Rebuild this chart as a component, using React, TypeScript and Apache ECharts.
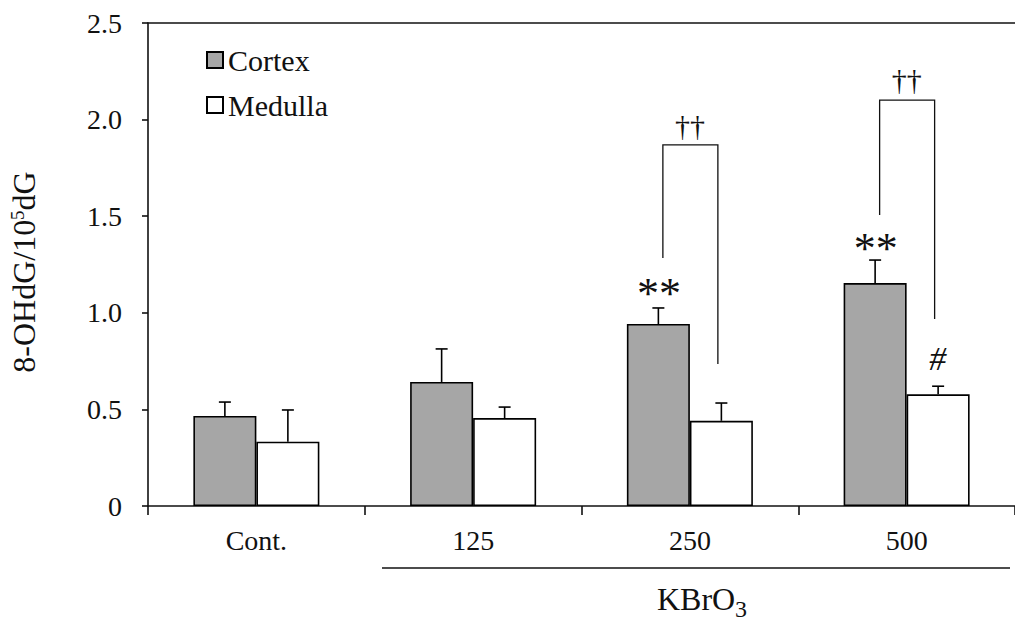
import React, { useEffect, useRef } from "react";
import * as echarts from "echarts";

const categories = ["Cont.", "125", "250", "500"];
const cortexMean = [0.466, 0.642, 0.942, 1.154];
const cortexSD = [0.072, 0.171, 0.083, 0.119];
const medullaMean = [0.333, 0.455, 0.441, 0.578];
const medullaSD = [0.164, 0.057, 0.092, 0.042];
const yTicks = [0, 0.5, 1.0, 1.5, 2.0, 2.5];

// brackets: [categoryIndex, leftBottom, top, rightBottom]
const brackets = [
  [2, 1.284, 1.869, 0.735],
  [3, 1.506, 2.101, 0.968],
];
// annotations: [categoryIndex, side(-1 cortex, 0 centre, 1 medulla), value, text]
const annotations: [number, number, number, string][] = [
  [2, -1, 1.1, "**"],
  [3, -1, 1.335, "**"],
  [3, 1, 0.766, "#"],
  [2, 0, 1.972, "††"],
  [3, 0, 2.205, "††"],
];

const FONT = '"Liberation Serif", "Times New Roman", serif';
const BAR_W = 63;

export default function App() {
  const ref = useRef<HTMLDivElement>(null);
  useEffect(() => {
    if (!ref.current) return;
    const chart = echarts.init(ref.current, undefined, { renderer: "svg" });
    const errorSeries = (name: string, means: number[], sds: number[], offset: number) => ({
      type: "custom",
      name: name + "-err",
      z: 5,
      encode: { x: 0, y: [1, 2] },
      data: means.map((m, i) => [i, m, m + sds[i]]),
      renderItem: (params: any, api: any) => {
        const c = api.value(0);
        const p0 = api.coord([c, api.value(1)]);
        const p1 = api.coord([c, api.value(2)]);
        const x = p0[0] + offset;
        const st = { stroke: "#000", lineWidth: 1.6 };
        return {
          type: "group",
          children: [
            { type: "line", shape: { x1: x, y1: p0[1], x2: x, y2: p1[1] }, style: st },
            { type: "line", shape: { x1: x - 6, y1: p1[1], x2: x + 6, y2: p1[1] }, style: st },
          ],
        };
      },
    });
    chart.setOption({
      animation: false,
      grid: { left: 148, top: 23, width: 872, height: 483 },
      legend: {
        data: ["Cortex", "Medulla"],
        orient: "vertical",
        left: 201,
        top: 40,
        itemWidth: 16,
        itemHeight: 16,
        itemGap: 15,
        icon: "rect",
        textStyle: { fontFamily: FONT, fontSize: 30, color: "#111" },
      },
      xAxis: [
        {
          type: "category",
          data: categories,
          axisLine: { lineStyle: { color: "#111", width: 1.6 } },
          axisTick: { show: true, length: 9, lineStyle: { color: "#111", width: 1.6 } },
          axisLabel: { fontFamily: FONT, fontSize: 28, color: "#111", margin: 20 },
        },
        {
          type: "category",
          data: categories,
          position: "top",
          axisLine: { show: true, lineStyle: { color: "#111", width: 1.6 } },
          axisTick: { show: false },
          axisLabel: { show: false },
        },
      ],
      yAxis: {
        type: "value",
        min: 0,
        max: 2.5,
        interval: 0.5,
        splitLine: { show: false },
        axisLine: { show: true, lineStyle: { color: "#111", width: 1.6 } },
        axisTick: { show: true, length: 6, lineStyle: { color: "#111", width: 1.6 } },
        axisLabel: {
          fontFamily: FONT,
          fontSize: 28,
          color: "#111",
          margin: 26,
          formatter: (v: number) => {
            const t = yTicks.find((k) => Math.abs(k - v) < 1e-9);
            return t === 0 ? "0" : (t ?? v).toFixed(1);
          },
        },
      },
      series: [
        {
          name: "Cortex",
          type: "bar",
          data: cortexMean,
          barWidth: BAR_W,
          barGap: "0%",
          itemStyle: { color: "#a6a6a6", borderColor: "#000", borderWidth: 1.6 },
        },
        {
          name: "Medulla",
          type: "bar",
          data: medullaMean,
          barWidth: BAR_W,
          barGap: "0%",
          itemStyle: { color: "#ffffff", borderColor: "#000", borderWidth: 1.6 },
        },
        errorSeries("Cortex", cortexMean, cortexSD, -BAR_W / 2),
        errorSeries("Medulla", medullaMean, medullaSD, BAR_W / 2),
        {
          type: "custom",
          name: "brackets",
          z: 5,
          encode: { x: 0, y: [1, 2, 3] },
          data: brackets,
          renderItem: (params: any, api: any) => {
            const c = api.value(0);
            const a = api.coord([c, api.value(1)]);
            const b = api.coord([c, api.value(2)]);
            const d = api.coord([c, api.value(3)]);
            const xl = a[0] - 27;
            const xr = a[0] + 28;
            return {
              type: "polyline",
              shape: { points: [[xl, a[1]], [xl, b[1]], [xr, b[1]], [xr, d[1]]] },
              style: { stroke: "#111", lineWidth: 1.3, fill: "none" },
            };
          },
        },
        {
          type: "custom",
          name: "annotations",
          z: 6,
          encode: { x: 0, y: 2 },
          data: annotations,
          renderItem: (params: any, api: any) => {
            const item = annotations[params.dataIndex];
            const p = api.coord([item[0], item[2]]);
            const txt = item[3];
            const isStar = txt === "**";
            const isDag = txt === "††";
            return {
              type: "text",
              x: p[0] + item[1] * 31,
              y: p[1],
              style: {
                text: txt,
                fontFamily: FONT,
                fontSize: isStar ? 44 : isDag ? 30 : 34,
                fontStyle: txt === "#" ? "italic" : "normal",
                fill: "#111",
                align: "center",
                verticalAlign: "middle",
              },
            };
          },
        },
      ],
      graphic: [
        {
          type: "text",
          x: 24,
          y: 272,
          rotation: Math.PI / 2,
          style: {
            text: "8-OHdG/10{sup|5}dG",
            fontFamily: FONT,
            fontSize: 32,
            fill: "#111",
            align: "center",
            verticalAlign: "middle",
            rich: {
              sup: { fontFamily: FONT, fontSize: 19, fill: "#111", verticalAlign: "top", lineHeight: 32 },
            },
          },
        },
        {
          type: "line",
          shape: { x1: 382, y1: 568, x2: 1010, y2: 568 },
          style: { stroke: "#111", lineWidth: 1.6 },
        },
        {
          type: "text",
          x: 657,
          y: 599,
          style: { text: "KBrO", fontFamily: FONT, fontSize: 32, fill: "#111", align: "left", verticalAlign: "middle" },
        },
        {
          type: "text",
          x: 735,
          y: 609,
          style: { text: "3", fontFamily: FONT, fontSize: 24, fill: "#111", align: "left", verticalAlign: "middle" },
        },
      ],
    });
    return () => chart.dispose();
  }, []);
  return (
    <div
      ref={ref}
      style={{ position: "fixed", left: 0, top: 0, width: 1015, height: 624, background: "#fff" }}
    />
  );
}
